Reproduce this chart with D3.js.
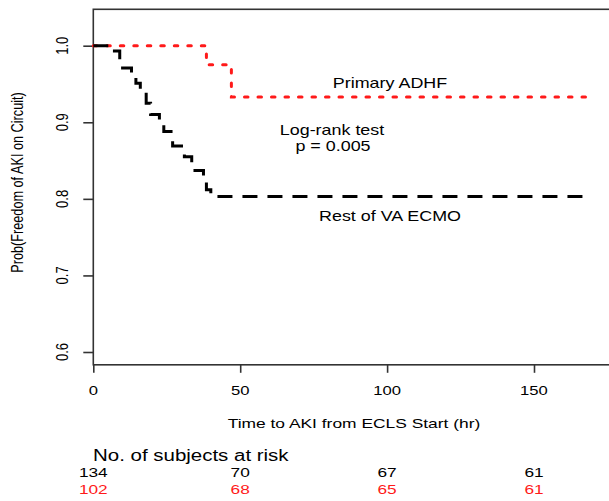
<!DOCTYPE html>
<html>
<head>
<meta charset="utf-8">
<script src="https://cdn.jsdelivr.net/npm/d3@7"></script>
<style>
    body { margin: 0; background: #fff; }
    svg { display: block; font-family: "Liberation Sans", Arial, sans-serif; }
</style>
</head>
<body>
<svg id="chart" width="609" height="501"></svg>
<script>
    "use strict";

    // Kaplan-Meier steps
    var vaTimes = [0, 6, 9, 13, 14.5, 16, 18, 19.5, 22.5, 24, 27, 31, 33.5, 37.5, 38.5, 40, 169];
    var vaSurv = [1.0, 0.993, 0.971, 0.962, 0.951, 0.940, 0.925, 0.910, 0.897, 0.888, 0.869, 0.855, 0.837, 0.822, 0.812, 0.803, 0.803];
    var adhfTimes = [0, 38.5, 47, 169];
    var adhfSurv = [1.0, 0.975, 0.933, 0.933];

    var xTicks = [0, 50, 100, 150];
    var yTicks = [0.6, 0.7, 0.8, 0.9, 1.0];
    var riskVa = [134, 70, 67, 61];
    var riskAdhf = [102, 68, 65, 61];

    (function () {
        var sx = 1.28; // the picture is stretched sideways

        var svg = d3.select("#chart");

        var x = d3.scaleLinear().domain([0, 150]).range([93.3, 534]);
        var y = d3.scaleLinear().domain([0.6, 1.0]).range([352, 45.7]);

        var boxL = 93.3, boxT = 9.3, boxB = 364.8, boxR = 614;

        function label(txt, px, py, size, anchor, color) {
            return svg.append("text")
                .attr("transform", "translate(" + px + "," + py + ") scale(" + sx + ",1)")
                .attr("text-anchor", anchor || "middle")
                .attr("font-size", size)
                .attr("fill", color || "#000")
                .text(txt);
        }

        // box
        svg.append("rect")
            .attr("x", boxL).attr("y", boxT)
            .attr("width", boxR - boxL).attr("height", boxB - boxT)
            .attr("fill", "none").attr("stroke", "#333").attr("stroke-width", 1.6);

        // axes
        var xAxis = d3.axisBottom(x).tickValues(xTicks).tickSize(8).tickFormat("");
        svg.append("g").attr("transform", "translate(0," + boxB + ")").call(xAxis)
            .call(function (g) {
                g.select(".domain").remove();
                g.selectAll("line").attr("stroke", "#333").attr("stroke-width", 1.6);
            });

        var yAxis = d3.axisLeft(y).tickValues(yTicks).tickSize(10).tickFormat("");
        svg.append("g").attr("transform", "translate(" + boxL + ",0)").call(yAxis)
            .call(function (g) {
                g.select(".domain").remove();
                g.selectAll("line").attr("stroke", "#333").attr("stroke-width", 1.6);
            });

        xTicks.forEach(function (t) {
            label(String(t), x(t), 395, 13);
        });

        yTicks.forEach(function (v) {
            svg.append("text")
                .attr("transform", "translate(68," + y(v) + ") scale(" + sx + ",1) rotate(-90)")
                .attr("text-anchor", "middle")
                .attr("font-size", 13)
                .attr("fill", "#000")
                .text(d3.format(".1f")(v));
        });

        // axis titles
        svg.append("text")
            .attr("transform", "translate(23,182.5) scale(" + sx + ",1) rotate(-90)")
            .attr("text-anchor", "middle")
            .attr("font-size", 12.7)
            .attr("fill", "#000")
            .text("Prob(Freedom of AKI on Circuit)");
        label("Time to AKI from ECLS Start (hr)", 354, 428, 13.6);

        // curves
        var line = d3.line()
            .x(function (d) { return x(d[0]); })
            .y(function (d) { return y(d[1]); })
            .curve(d3.curveStepAfter);

        svg.append("path")
            .attr("d", line(d3.zip(adhfTimes, adhfSurv)))
            .attr("fill", "none")
            .attr("stroke", "#ff1a1a")
            .attr("stroke-width", 3)
            .attr("stroke-linecap", "round")
            .attr("stroke-dasharray", "3.5,10");

        svg.append("path")
            .attr("d", line(d3.zip(vaTimes, vaSurv)))
            .attr("fill", "none")
            .attr("stroke", "#000")
            .attr("stroke-width", 3)
            .attr("stroke-dasharray", "15,10");

        // annotations
        label("Primary ADHF", 390, 88.3, 14);
        label("Log-rank test", 332, 135, 14);
        label("p = 0.005", 333, 150.7, 14);
        label("Rest of VA ECMO", 390, 220.7, 14);

        // at-risk table
        label("No. of subjects at risk", 93, 460.7, 16, "start");
        xTicks.forEach(function (t, i) {
            label(String(riskVa[i]), x(t), 477, 13.5, "middle", "#000");
            label(String(riskAdhf[i]), x(t), 494, 13.5, "middle", "#ff1a1a");
        });
    })();
</script>
</body>
</html>
